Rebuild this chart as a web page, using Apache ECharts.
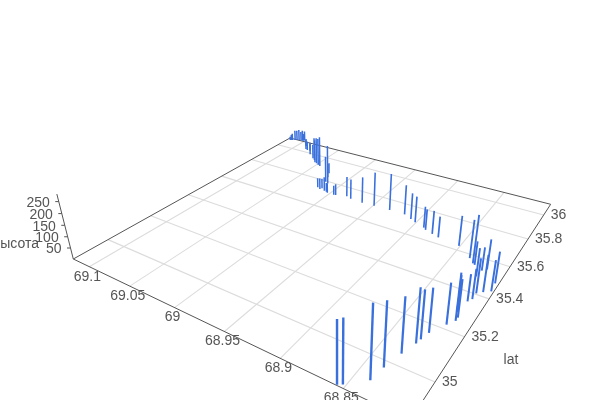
<!DOCTYPE html>
<html><head><meta charset="utf-8"><style>html,body{margin:0;background:#fff}#main{width:600px;height:400px}</style>
<script src="https://cdn.jsdelivr.net/npm/echarts@6/dist/echarts.min.js"></script></head>
<body><div id="main"></div>
<script>
const lonTicks=[69.1,69.05,69,68.95,68.9,68.85];
const latTicks=[35,35.2,35.4,35.6,35.8,36];
const altTicks=[50,100,150,200,250];
const lon=[68.855,68.852,68.839,68.837,68.833,68.829,68.828,68.826,68.819,68.815,68.815,68.818,68.816,68.814,68.814,68.810,68.805,68.806,68.821,68.818,68.836,68.831,68.829,68.822,68.851,68.872,68.879,68.887,68.890,68.901,68.907,68.916,68.932,68.949,68.962,68.976,68.982,68.993,68.995,69.003,69.008,69.013,69.014,69.018,69.014,69.018,69.026,69.045,69.052,69.059,69.063,69.078,69.082,69.101,69.103,69.108,69.112,69.115,69.117,69.110,69.105,69.102,69.116,69.090,69.085,69.072,69.048,69.055,69.022,69.005];
const lat=[34.858,34.867,34.917,34.975,35.046,35.103,35.125,35.162,35.221,35.250,35.267,35.291,35.353,35.372,35.405,35.422,35.439,35.486,35.529,35.545,35.576,35.553,35.548,35.489,35.628,35.641,35.651,35.663,35.674,35.692,35.705,35.724,35.723,35.721,35.717,35.722,35.731,35.716,35.714,35.715,35.723,35.736,35.726,35.734,35.785,35.794,35.869,35.910,35.925,35.949,35.961,36.024,36.024,36.110,36.103,36.102,36.091,36.085,36.078,36.096,36.102,36.106,36.082,36.060,36.030,35.990,35.915,35.930,35.835,35.720];
const alt=[240,244,281,249,218,216,194,178,167,192,155,149,114,126,146,156,132,135,102,131,169,209,103,122,136,96,107,97,99,122,123,140,174,162,126,97,98,55,46,48,69,50,55,47,192,130,54,155,136,120,74,46,48,53,59,59,55,36,20,55,50,40,30,40,50,60,140,120,70,45];

/* camera: ground-plane homography plus a vertical vanishing point */
const H={a:213.1,b:348.4,c:73.3,d:34.8,e:-58.3,f:259,g:-.3014,h:.4542};
const lonMax=69.1212,lonSpan=.318,latMin=34.856,latSpan=1.242,altMax=281;
const zr=-.000209,Vx=337,Vy=1300;
const project=(lo,la,z)=>{
  const u=(lonMax-lo)/lonSpan,v=(la-latMin)/latSpan,s=z*zr;
  const w=1+H.g*u+H.h*v;
  const nx=H.a*u+H.b*v+H.c,ny=H.d*u+H.e*v+H.f;
  return {x:(nx+s*Vx)/(w+s),y:(ny+s*Vy)/(w+s),w:w};
};
const lonA=lonMax,lonB=lonMax-lonSpan,latA=latMin,latB=latMin+latSpan;
const grid='#dcdcdc',axis='#555',text='#555',font='14px "Liberation Sans", Arial, sans-serif';

const seg=(api,p,q,color,width)=>({type:'line',
  shape:{x1:api.coord([p.x,p.y])[0],y1:api.coord([p.x,p.y])[1],x2:api.coord([q.x,q.y])[0],y2:api.coord([q.x,q.y])[1]},
  style:{stroke:color,lineWidth:width}});
const label=(api,p,dx,dy,str,align)=>{
  const c=api.coord([p.x,p.y]);
  return {type:'text',x:c[0]+dx,y:c[1]+dy,style:{text:str,fill:text,font:font,align:align,verticalAlign:'middle'}};
};

const hidden={show:false};
const option={animation:false,
 grid:{left:0,right:0,top:0,bottom:0},
 xAxis:Object.assign({type:'value',min:0,max:600},hidden),
 yAxis:Object.assign({type:'value',min:0,max:400,inverse:true},hidden),
 series:[
 {type:'custom',coordinateSystem:'cartesian2d',silent:true,clip:false,z:1,data:lonTicks.map(t=>[t]),
  renderItem:(p,api)=>seg(api,project(api.value(0),latA,0),project(api.value(0),latB,0),grid,1.1),encode:{x:[],y:[]}},
 {type:'custom',coordinateSystem:'cartesian2d',silent:true,clip:false,z:1,data:latTicks.map(t=>[t]),
  renderItem:(p,api)=>seg(api,project(lonA,api.value(0),0),project(lonB,api.value(0),0),grid,1.1),encode:{x:[],y:[]}},
 {type:'custom',coordinateSystem:'cartesian2d',silent:true,clip:false,z:2,
  data:[[lonA,latA,lonB,latA],[lonB,latA,lonB,latB],[lonB,latB,lonA,latB],[lonA,latB,lonA,latA]],
  renderItem:(p,api)=>seg(api,project(api.value(0),api.value(1),0),project(api.value(2),api.value(3),0),axis,1),encode:{x:[],y:[]}},
 {type:'custom',coordinateSystem:'cartesian2d',silent:true,clip:false,z:2,data:[[0,altMax]],
  renderItem:(p,api)=>seg(api,project(lonA,latA,api.value(0)),project(lonA,latA,api.value(1)),axis,1),encode:{x:[],y:[]}},
 {type:'custom',coordinateSystem:'cartesian2d',silent:true,clip:false,z:2,data:altTicks.map(t=>[t]),
  renderItem:(p,api)=>{const q=project(lonA,latA,api.value(0));
    return {type:'group',children:[seg(api,q,{x:q.x-3.5,y:q.y},axis,1),label(api,q,-9,1.5,String(api.value(0)),'right')]};},encode:{x:[],y:[]}},
 {type:'custom',coordinateSystem:'cartesian2d',silent:true,clip:false,z:3,data:lonTicks.map(t=>[t]),
  renderItem:(p,api)=>label(api,project(api.value(0),latA,0),-2,10,String(api.value(0)),'center'),encode:{x:[],y:[]}},
 {type:'custom',coordinateSystem:'cartesian2d',silent:true,clip:false,z:3,data:latTicks.map(t=>[t]),
  renderItem:(p,api)=>label(api,project(lonB,api.value(0),0),7,0,String(api.value(0)),'left'),encode:{x:[],y:[]}},
 {type:'custom',coordinateSystem:'cartesian2d',silent:true,clip:false,z:3,data:[[39,244,'высота','right'],[511,360,'lat','center']],
  dimensions:['x','y','name','al'],
  renderItem:(p,api)=>{const d=option.series[7].data[p.dataIndex];
    return label(api,{x:d[0],y:d[1]},0,0,d[2],d[3]);},encode:{x:0,y:1}},
 {type:'custom',coordinateSystem:'cartesian2d',silent:true,clip:false,z:5,
  data:lon.map((v,i)=>[v,lat[i],alt[i]]),
  renderItem:(p,api)=>{const b=project(api.value(0),api.value(1),0),t=project(api.value(0),api.value(1),api.value(2));
    return seg(api,b,t,'#3a70dc',Math.max(1.5,1.8/b.w));},encode:{x:[],y:[]}}
 ]};
echarts.init(document.getElementById('main'),null,{renderer:'canvas'}).setOption(option);
</script></body></html>
